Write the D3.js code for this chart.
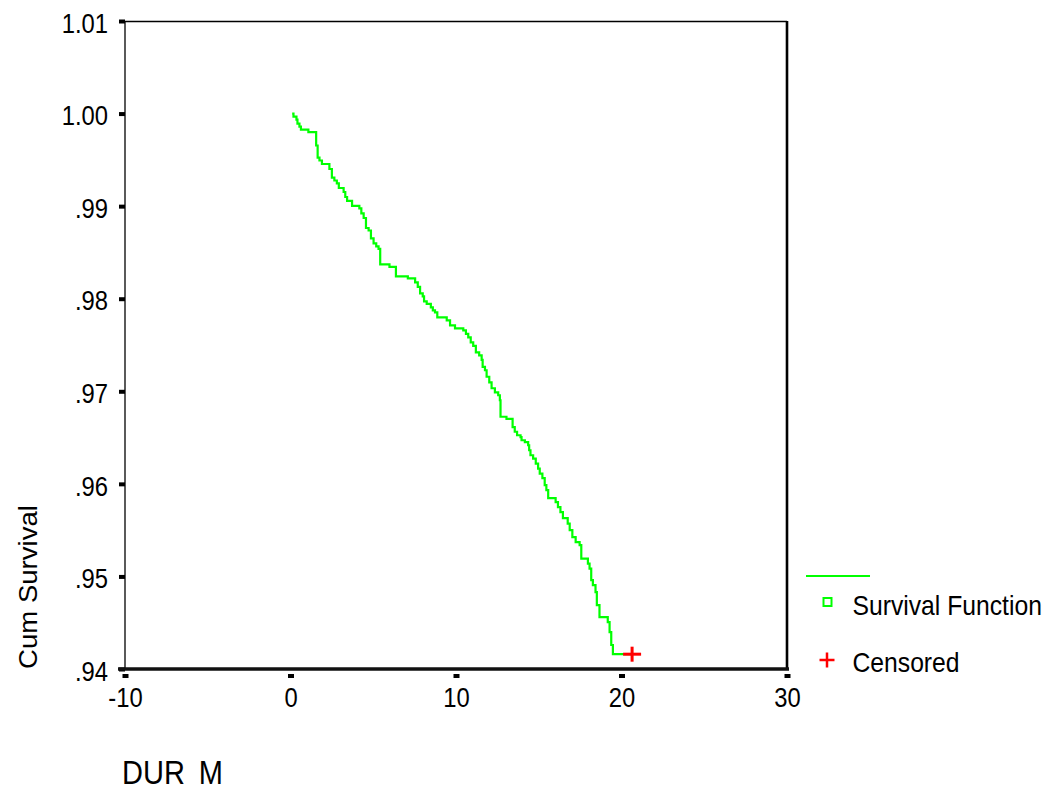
<!DOCTYPE html>
<html>
<head>
<meta charset="utf-8">
<script src="https://cdn.jsdelivr.net/npm/d3@7"></script>
<style>
  html, body { margin: 0; padding: 0; background: #fff; }
  svg { display: block; }
  text { font-family: "Liberation Sans", Arial, sans-serif; fill: #000; }
</style>
</head>
<body>
<svg id="chart" width="1047" height="790"></svg>
<script>
// Kaplan-Meier survival estimate: drop times (months) and survival after each drop
const startTime = 0.1;
const startSurvival = 1.0;
const stepTimes = [
  0.18, 0.36, 0.42, 0.54, 0.63, 1.08, 1.55, 1.64, 1.75, 1.90,
  2.35, 2.50, 2.65, 2.80, 2.92, 3.21, 3.31, 3.42, 3.72, 4.16,
  4.28, 4.42, 4.56, 4.72, 4.86, 5.02, 5.18, 5.32, 5.42, 5.98,
  6.37, 7.09, 7.53, 7.69, 7.83, 7.99, 8.07, 8.23, 8.48, 8.60,
  8.73, 8.87, 9.44, 9.64, 9.94, 10.44, 10.60, 10.74, 10.89, 11.04,
  11.20, 11.40, 11.55, 11.61, 11.75, 11.85, 12.01, 12.15, 12.35, 12.55,
  12.65, 12.69, 13.05, 13.42, 13.55, 13.69, 13.90, 13.96, 14.16, 14.36,
  14.42, 14.50, 14.66, 14.82, 14.96, 15.06, 15.22, 15.36, 15.46, 15.57,
  16.02, 16.16, 16.31, 16.46, 16.75, 16.87, 17.03, 17.23, 17.47, 17.57,
  17.97, 18.07, 18.17, 18.27, 18.43, 18.51, 18.67, 19.17, 19.28, 19.38,
  19.48
];
const stepSurvival = [
  0.99968, 0.99935, 0.99892, 0.99860, 0.99827, 0.99800, 0.99655, 0.99525, 0.99493, 0.99455,
  0.99401, 0.99309, 0.99277, 0.99245, 0.99196, 0.99153, 0.99099, 0.99056, 0.99002, 0.98975,
  0.98921, 0.98872, 0.98764, 0.98737, 0.98651, 0.98597, 0.98565, 0.98538, 0.98371, 0.98344,
  0.98241, 0.98219, 0.98176, 0.98128, 0.98058, 0.98025, 0.97971, 0.97944, 0.97907, 0.97874,
  0.97853, 0.97799, 0.97766, 0.97712, 0.97680, 0.97658, 0.97621, 0.97583, 0.97529, 0.97491,
  0.97421, 0.97389, 0.97340, 0.97264, 0.97227, 0.97157, 0.97097, 0.97033, 0.96989, 0.96957,
  0.96903, 0.96725, 0.96703, 0.96612, 0.96563, 0.96525, 0.96504, 0.96471, 0.96450, 0.96417,
  0.96363, 0.96309, 0.96272, 0.96218, 0.96164, 0.96110, 0.96061, 0.95986, 0.95932, 0.95845,
  0.95802, 0.95748, 0.95694, 0.95630, 0.95570, 0.95500, 0.95425, 0.95371, 0.95338, 0.95192,
  0.95139, 0.95085, 0.94960, 0.94907, 0.94831, 0.94691, 0.94561, 0.94507, 0.94399, 0.94259,
  0.94160
];
// censored observation
const censoredTime = [20.64];
const censoredSurvival = [0.94160];

const xTicks = [-10, 0, 10, 20, 30];
const xTickLabels = ["-10", "0", "10", "20", "30"];
const yTicks = [1.01, 1.00, 0.99, 0.98, 0.97, 0.96, 0.95, 0.94];
const yTickLabels = ["1.01", "1.00", ".99", ".98", ".97", ".96", ".95", ".94"];

const xTitle = "DUR";
const xTitleTail = " M";
const yTitle = "Cum Survival";
const legendLabels = ["Survival Function", "Censored"];

const svg = d3.select("#chart");
const plotL = 125, plotR = 787, plotT = 21, plotB = 669;
const stretch = 1.13;   // text is drawn a little taller than wide

const x = d3.scaleLinear().domain([-10, 30]).range([plotL, plotR]);
const y = d3.scaleLinear().domain([0.94, 1.01]).range([plotB, plotT]);

svg.append("rect").attr("width", 1047).attr("height", 790).attr("fill", "#fff");

// frame
svg.append("line").attr("x1", plotL).attr("x2", plotL).attr("y1", plotT).attr("y2", plotB)
  .attr("stroke", "#000").attr("stroke-width", 1.3);
svg.append("line").attr("x1", plotL).attr("x2", plotR).attr("y1", plotT + 0.5).attr("y2", plotT + 0.5)
  .attr("stroke", "#000").attr("stroke-width", 1.3);
svg.append("line").attr("x1", plotR).attr("x2", plotR).attr("y1", plotT).attr("y2", plotB)
  .attr("stroke", "#000").attr("stroke-width", 2.6);

// y axis
const yAxis = d3.axisLeft(y).tickValues(yTicks).tickSize(6)
  .tickFormat((d, i) => yTickLabels[i]);
const gy = svg.append("g").attr("transform", `translate(${plotL},0)`).call(yAxis);
gy.select(".domain").remove();
gy.selectAll(".tick line").attr("stroke", "#000").attr("stroke-width", 4);
gy.selectAll(".tick text")
  .attr("x", -17).attr("dy", 9.9)
  .attr("transform", `scale(1,${stretch})`)
  .style("font-size", "23.8px").style("font-family", "'Liberation Sans', Arial, sans-serif")
  .attr("fill", "#000");

// x axis
const xAxis = d3.axisBottom(x).tickValues(xTicks).tickSize(0)
  .tickFormat((d, i) => xTickLabels[i]);
const gx = svg.append("g").attr("transform", `translate(0,${plotB})`).call(xAxis);
gx.select(".domain").remove();
gx.selectAll(".tick line").attr("y1", 5).attr("y2", 9)
  .attr("stroke", "#000").attr("stroke-width", 6);
gx.selectAll(".tick text")
  .attr("y", 38 / stretch).attr("dy", 0)
  .attr("transform", `scale(1,${stretch})`)
  .style("font-size", "23.8px").style("font-family", "'Liberation Sans', Arial, sans-serif")
  .attr("fill", "#000");

// heavy baseline
svg.append("line").attr("x1", plotL - 7).attr("x2", plotR + 2).attr("y1", plotB).attr("y2", plotB)
  .attr("stroke", "#111").attr("stroke-width", 3.6);

// survival step curve
const pts = [[startTime, startSurvival]]
  .concat(stepTimes.map((t, i) => [t, stepSurvival[i]]))
  .concat([[censoredTime[0], stepSurvival[stepSurvival.length - 1]]]);
const line = d3.line().x(d => x(d[0])).y(d => y(d[1])).curve(d3.curveStepAfter);
svg.append("path").attr("d", line(pts))
  .attr("fill", "none").attr("stroke", "#00ff00").attr("stroke-width", 2.2);

// censored marks
const plus = (g, cx, cy, hw, hh, sw) => {
  g.append("line").attr("x1", cx - hw).attr("x2", cx + hw).attr("y1", cy).attr("y2", cy)
    .attr("stroke", "#ff0000").attr("stroke-width", sw);
  g.append("line").attr("x1", cx).attr("x2", cx).attr("y1", cy - hh).attr("y2", cy + hh)
    .attr("stroke", "#ff0000").attr("stroke-width", sw);
};
const gc = svg.append("g");
censoredTime.forEach((t, i) => plus(gc, x(t), y(censoredSurvival[i]), 9, 7.5, 3));

// axis titles
svg.append("text")
  .attr("transform", `translate(122,783.5) scale(1,${stretch})`)
  .style("font-size", "29px")
  .text(xTitle)
  .append("tspan").attr("dx", 6).text(xTitleTail);

svg.append("text")
  .attr("transform", `translate(37,587) rotate(-90) scale(1.06,1)`)
  .attr("text-anchor", "middle")
  .style("font-size", "26px")
  .text(yTitle);

// legend
const lg = svg.append("g");
lg.append("line").attr("x1", 806).attr("x2", 870).attr("y1", 576).attr("y2", 576)
  .attr("stroke", "#00ff00").attr("stroke-width", 2);
lg.append("rect").attr("x", 823.5).attr("y", 598).attr("width", 8).attr("height", 8)
  .attr("fill", "none").attr("stroke", "#00ff00").attr("stroke-width", 2);
plus(lg, 827, 660, 7.5, 7.5, 2.5);
lg.append("text").attr("transform", `translate(852.5,615) scale(1,${stretch})`)
  .style("font-size", "24.7px").text(legendLabels[0]);
lg.append("text").attr("transform", `translate(852.5,671.5) scale(1,${stretch})`)
  .style("font-size", "24.7px").text(legendLabels[1]);
</script>
</body>
</html>
